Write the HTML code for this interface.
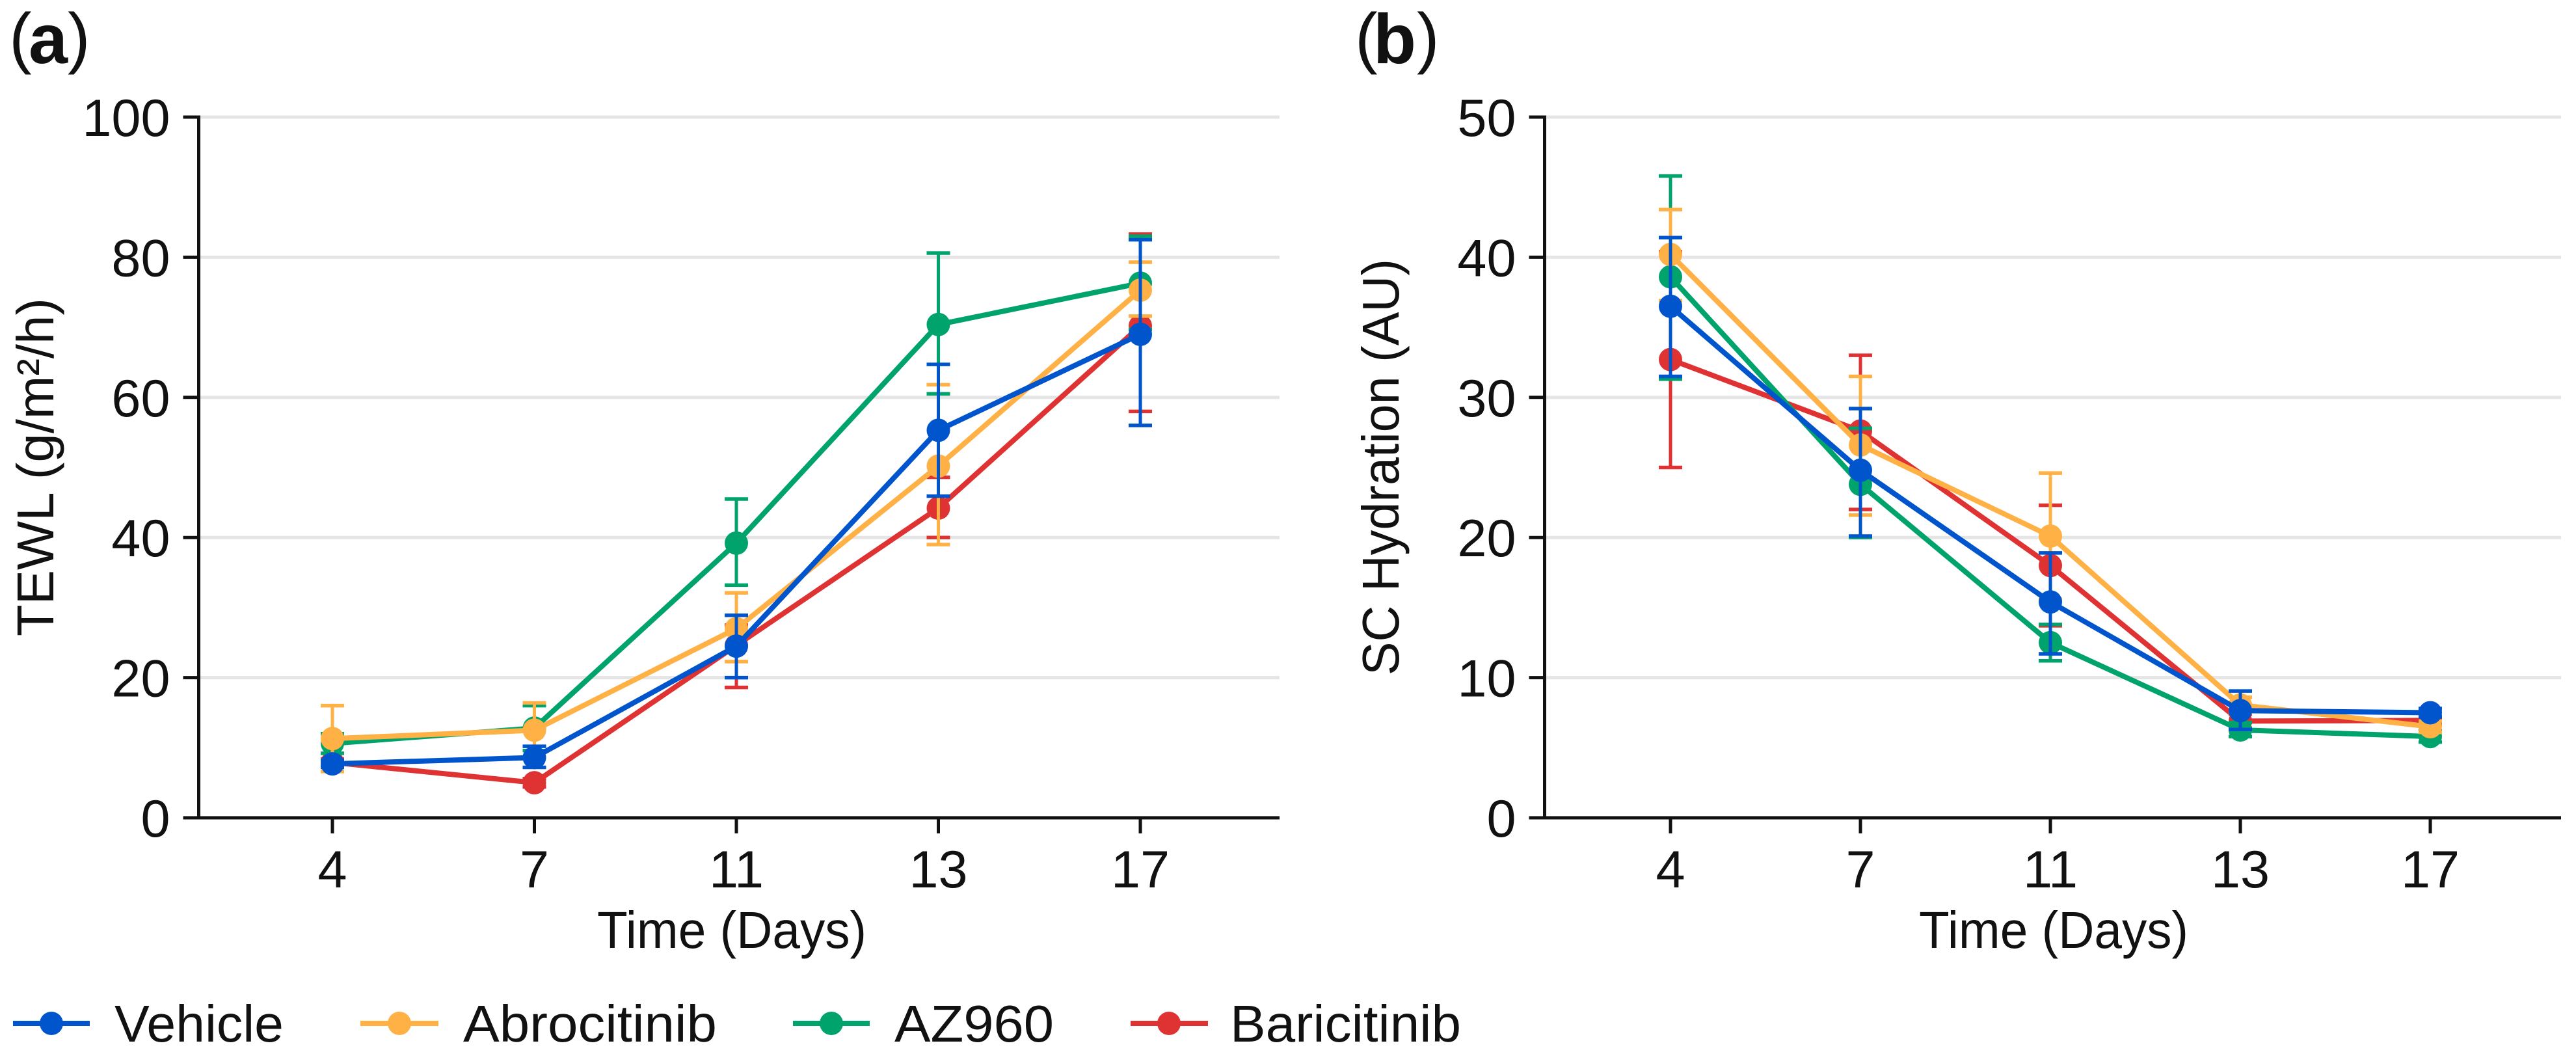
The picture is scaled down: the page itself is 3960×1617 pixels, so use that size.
<!DOCTYPE html>
<html lang="en">
<head>
<meta charset="utf-8">
<title>TEWL and SC Hydration over time</title>
<style>
html,body{margin:0;padding:0;background:#fff;width:3960px;height:1617px;overflow:hidden}
svg{display:block}
text{font-family:"Liberation Sans",sans-serif;fill:#111}
</style>
</head>
<body>
<svg id="figure" xmlns="http://www.w3.org/2000/svg" width="3960" height="1617" viewBox="0 0 3960 1617">
  <text font-size="104"><tspan x="14" y="93">(</tspan><tspan x="44" y="97" font-size="108" font-weight="bold">a</tspan><tspan x="104" y="93">)</tspan></text>
  <text font-size="104"><tspan x="2083" y="93">(</tspan><tspan x="2111" y="97" font-size="108" font-weight="bold">b</tspan><tspan x="2178" y="93">)</tspan></text>
  <text transform="translate(82,718) rotate(-90)" text-anchor="middle" font-size="80" textLength="520" lengthAdjust="spacingAndGlyphs">TEWL (g/m²/h)</text>
  <text transform="translate(2150,718) rotate(-90)" text-anchor="middle" font-size="80" textLength="640" lengthAdjust="spacingAndGlyphs">SC Hydration (AU)</text>
  <text x="1125" y="1457" text-anchor="middle" font-size="80" textLength="414" lengthAdjust="spacingAndGlyphs">Time (Days)</text>
  <text x="3157" y="1457" text-anchor="middle" font-size="80" textLength="414" lengthAdjust="spacingAndGlyphs">Time (Days)</text>
  <g id="panel-a"></g>
  <g id="panel-b"></g>
  <g>
    <g>
      <line x1="20" x2="138" y1="1573" y2="1573" stroke="#0055CC" stroke-width="8"/><circle cx="79" cy="1573" r="18" fill="#0055CC"/>
      <text x="176" y="1601" font-size="80" textLength="260" lengthAdjust="spacingAndGlyphs">Vehicle</text>
    </g>
    <g>
      <line x1="554" x2="674" y1="1573" y2="1573" stroke="#FFB145" stroke-width="8"/><circle cx="614" cy="1573" r="18" fill="#FFB145"/>
      <text x="712" y="1601" font-size="80" textLength="390" lengthAdjust="spacingAndGlyphs">Abrocitinib</text>
    </g>
    <g>
      <line x1="1219" x2="1337" y1="1573" y2="1573" stroke="#00A36C" stroke-width="8"/><circle cx="1278" cy="1573" r="18" fill="#00A36C"/>
      <text x="1375" y="1601" font-size="80" textLength="245" lengthAdjust="spacingAndGlyphs">AZ960</text>
    </g>
    <g>
      <line x1="1738" x2="1857" y1="1573" y2="1573" stroke="#DF3232" stroke-width="8"/><circle cx="1797" cy="1573" r="18" fill="#DF3232"/>
      <text x="1891" y="1601" font-size="80" textLength="355" lengthAdjust="spacingAndGlyphs">Baricitinib</text>
    </g>
  </g>
</svg>
<script>
var days = ['4', '7', '11', '13', '17'];
var tewlTicks = [0, 20, 40, 60, 80, 100];
var hydrationTicks = [0, 10, 20, 30, 40, 50];

var tewlVehicle = [7.7, 8.6, 24.5, 55.3, 69.0];
var tewlVehicleHigh = [8.2, 10.2, 28.9, 64.7, 82.5];
var tewlVehicleLow = [7.2, 7.2, 20.0, 45.9, 56.0];
var tewlAbrocitinib = [11.3, 12.5, 27.0, 50.2, 75.3];
var tewlAbrocitinibHigh = [16.0, 16.4, 32.1, 61.8, 79.3];
var tewlAbrocitinibLow = [6.6, 8.6, 22.3, 39.0, 71.6];
var tewlAz960 = [10.6, 12.8, 39.2, 70.4, 76.3];
var tewlAz960High = [12.0, 16.0, 45.5, 80.6, 83.0];
var tewlAz960Low = [9.2, 9.6, 33.2, 60.5, 69.7];
var tewlBaricitinib = [7.9, 5.0, 24.6, 44.2, 70.2];
var tewlBaricitinibHigh = [8.4, 5.6, 27.5, 48.6, 83.3];
var tewlBaricitinibLow = [7.4, 4.4, 18.6, 40.0, 58.0];

var hydVehicle = [36.5, 24.8, 15.4, 7.65, 7.5];
var hydVehicleHigh = [41.4, 29.2, 18.9, 9.05, 7.8];
var hydVehicleLow = [31.5, 20.1, 11.7, 6.3, 7.2];
var hydAbrocitinib = [40.2, 26.6, 20.1, 8.05, 6.5];
var hydAbrocitinibHigh = [43.4, 31.5, 24.6, 8.6, 6.9];
var hydAbrocitinibLow = [36.9, 21.6, 15.6, 7.5, 6.1];
var hydAz960 = [38.6, 23.8, 12.5, 6.27, 5.8];
var hydAz960High = [45.8, 27.8, 13.8, 6.8, 6.2];
var hydAz960Low = [31.3, 20.0, 11.2, 5.8, 5.4];
var hydBaricitinib = [32.7, 27.6, 18.0, 6.9, 6.95];
var hydBaricitinibHigh = [40.4, 33.0, 22.3, 7.4, 7.2];
var hydBaricitinibLow = [25.0, 22.0, 13.7, 6.4, 6.7];

var NS = 'http://www.w3.org/2000/svg';
var BLUE = '#0055CC', ORANGE = '#FFB145', GREEN = '#00A36C', RED = '#DF3232';

function mk(parent, tag, attrs) {
  var el = document.createElementNS(NS, tag);
  for (var k in attrs) { el.setAttribute(k, attrs[k]); }
  parent.appendChild(el);
  return el;
}

function drawPanel(root, opt) {
  var y = function (v) { return opt.yBottom - (v / opt.yMax) * (opt.yBottom - opt.yTop); };
  var x = function (i) { return opt.xStart + i * opt.xStep; };

  opt.ticks.forEach(function (t) {
    if (t > 0) {
      var g = mk(root, 'line', { x1: opt.axisX, x2: opt.xEnd, y1: y(t), y2: y(t), stroke: '#E5E5E5', 'stroke-width': 5 });
      
      
    }
  });
  var yAxis = mk(root, 'line', { x1: opt.axisX, x2: opt.axisX, y1: opt.yTop - 2.5, y2: opt.yBottom + 2.5, stroke: '#111', 'stroke-width': 5 });
  
  
  var xAxis = mk(root, 'line', { x1: opt.axisX - 24, x2: opt.xEnd, y1: opt.yBottom, y2: opt.yBottom, stroke: '#111', 'stroke-width': 5 });
  
  

  opt.ticks.forEach(function (t) {
    var m = mk(root, 'line', { x1: opt.axisX - 24, x2: opt.axisX, y1: y(t), y2: y(t), stroke: '#111', 'stroke-width': 5 });
    
    
    var l = mk(root, 'text', { x: opt.axisX - 44, y: y(t) + 29, 'text-anchor': 'end', 'font-size': 81 });
    
    
    l.textContent = String(t);
  });
  days.forEach(function (d, i) {
    var m = mk(root, 'line', { x1: x(i), x2: x(i), y1: opt.yBottom, y2: opt.yBottom + 24, stroke: '#111', 'stroke-width': 5 });
    
    
    var l = mk(root, 'text', { x: x(i), y: 1364, 'text-anchor': 'middle', 'font-size': 81 });
    
    
    l.textContent = d;
  });

  opt.series.forEach(function (s) {
    var g = mk(root, 'g', {});
    
    
    s.values.forEach(function (v, i) {
      var stem = mk(g, 'line', { x1: x(i), x2: x(i), y1: y(s.high[i]), y2: y(s.low[i]), stroke: s.color, 'stroke-width': 5 });
      
      
      var capTop = mk(g, 'line', { x1: x(i) - 18, x2: x(i) + 18, y1: y(s.high[i]), y2: y(s.high[i]), stroke: s.color, 'stroke-width': 5.5 });
      
      
      var capLow = mk(g, 'line', { x1: x(i) - 18, x2: x(i) + 18, y1: y(s.low[i]), y2: y(s.low[i]), stroke: s.color, 'stroke-width': 5.5 });
      
      
    });
    var pts = s.values.map(function (v, i) { return x(i) + ',' + y(v); }).join(' ');
    var line = mk(g, 'polyline', { points: pts, fill: 'none', stroke: s.color, 'stroke-width': 8, 'stroke-linejoin': 'round' });
    
    
    s.values.forEach(function (v, i) {
      var c = mk(g, 'circle', { cx: x(i), cy: y(v), r: 18, fill: s.color });
      
      
    });
  });
}

drawPanel(document.getElementById('panel-a'), {
  axisX: 305.5, xEnd: 1967, xStart: 511, xStep: 310.5, yTop: 180, yBottom: 1257, yMax: 100,
  ticks: tewlTicks,
  series: [
    { name: 'baricitinib', color: RED, values: tewlBaricitinib, high: tewlBaricitinibHigh, low: tewlBaricitinibLow },
    { name: 'az960', color: GREEN, values: tewlAz960, high: tewlAz960High, low: tewlAz960Low },
    { name: 'abrocitinib', color: ORANGE, values: tewlAbrocitinib, high: tewlAbrocitinibHigh, low: tewlAbrocitinibLow },
    { name: 'vehicle', color: BLUE, values: tewlVehicle, high: tewlVehicleHigh, low: tewlVehicleLow }
  ]
});
drawPanel(document.getElementById('panel-b'), {
  axisX: 2374.5, xEnd: 3937, xStart: 2568, xStep: 292, yTop: 180, yBottom: 1257, yMax: 50,
  ticks: hydrationTicks,
  series: [
    { name: 'baricitinib', color: RED, values: hydBaricitinib, high: hydBaricitinibHigh, low: hydBaricitinibLow },
    { name: 'az960', color: GREEN, values: hydAz960, high: hydAz960High, low: hydAz960Low },
    { name: 'abrocitinib', color: ORANGE, values: hydAbrocitinib, high: hydAbrocitinibHigh, low: hydAbrocitinibLow },
    { name: 'vehicle', color: BLUE, values: hydVehicle, high: hydVehicleHigh, low: hydVehicleLow }
  ]
});
</script>
</body>
</html>
